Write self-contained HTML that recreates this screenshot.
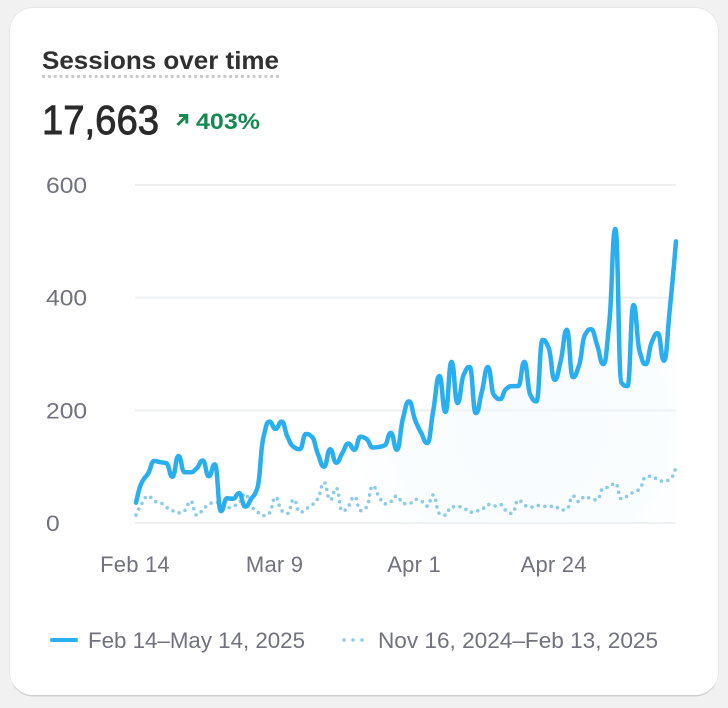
<!DOCTYPE html>
<html lang="en">
<head>
<meta charset="utf-8">
<title>Sessions over time</title>
<style>
  html, body { margin: 0; padding: 0; width: 728px; height: 708px; overflow: hidden; background: #f1f1f1; }
  svg { display: block; }
  text { font-family: "Liberation Sans", sans-serif; }
</style>
</head>
<body>
<svg id="chart" width="728" height="708" viewBox="0 0 728 708" xmlns="http://www.w3.org/2000/svg">
  <defs>
    <radialGradient id="area-fill" gradientUnits="userSpaceOnUse" cx="530" cy="425" r="200">
      <stop offset="0" stop-color="#eff8fd" stop-opacity="0.45"/>
      <stop offset="0.7" stop-color="#f1f9fe" stop-opacity="0.32"/>
      <stop offset="1" stop-color="#ffffff" stop-opacity="0"/>
    </radialGradient>
  </defs>
  <rect x="10" y="9" width="708" height="687.5" rx="23" fill="#cfcfcf"/>
  <rect x="9" y="7" width="710" height="688" rx="24" fill="#e6e6e6"/>
  <rect x="10" y="8" width="708" height="687" rx="23" fill="#ffffff"/>

  <text x="42" y="69" font-size="25" font-weight="700" fill="#303030" textLength="237" lengthAdjust="spacingAndGlyphs">Sessions over time</text>
  <line x1="43.5" y1="76.5" x2="278" y2="76.5" stroke="#c9c9c9" stroke-width="3.2" stroke-linecap="round" stroke-dasharray="0 5.85"/>
  <text x="42" y="134" font-size="41" font-weight="400" fill="#2b2b2b" stroke="#2b2b2b" stroke-width="0.9" textLength="117" lengthAdjust="spacingAndGlyphs">17,663</text>
  <path d="M177.5 125 L186 116.5 M179 115.5 H186.8 V123.5" fill="none" stroke="#138a50" stroke-width="3"/>
  <text x="196" y="129" font-size="22.5" font-weight="700" fill="#138a50" textLength="64" lengthAdjust="spacingAndGlyphs">403%</text>

  <g id="y-axis"></g>
  <g id="x-axis"></g>
  <path id="current-area" fill="url(#area-fill)"/>
  <path id="previous-line" fill="none" stroke="#8bcbea" stroke-width="3.6" stroke-linecap="round" stroke-dasharray="0 6.6"/>
  <path id="current-line" fill="none" stroke="#29aff0" stroke-width="4.5" stroke-linecap="round" stroke-linejoin="round"/>

  <g>
    <line x1="52" y1="640" x2="76" y2="640" stroke="#29aff0" stroke-width="4" stroke-linecap="round"/>
    <text x="88" y="648" font-size="22" fill="#71717f" textLength="217" lengthAdjust="spacingAndGlyphs">Feb 14–May 14, 2025</text>
  </g>
  <g>
    <line x1="344" y1="640" x2="363" y2="640" stroke="#8bcbea" stroke-width="3.6" stroke-linecap="round" stroke-dasharray="0 9"/>
    <text x="378" y="648" font-size="22" fill="#71717f" textLength="280" lengthAdjust="spacingAndGlyphs">Nov 16, 2024–Feb 13, 2025</text>
  </g>
</svg>
<script>
const yTickValues = [0, 200, 400, 600];
const xTickLabels = ["Feb 14", "Mar 9", "Apr 1", "Apr 24"];
const xTickIndexes = [0, 23, 46, 69];
const currentSessions = [
  36, 73, 88, 110, 108, 106, 82, 119, 90, 90,
  97, 111, 83, 104, 21, 44, 43, 53, 29, 43,
  62, 152, 180, 167, 180, 152, 135, 131, 158, 153,
  122, 100, 131, 107, 124, 141, 130, 153, 149, 134,
  135, 138, 160, 130, 186, 216, 183, 160, 142, 200,
  261, 197, 286, 213, 263, 277, 195, 233, 277, 227,
  220, 238, 243, 243, 286, 227, 216, 325, 311, 254,
  288, 343, 259, 279, 334, 344, 316, 282, 355, 522,
  249, 243, 387, 305, 282, 321, 337, 288, 382, 500
];
const previousSessions = [
  14, 35, 48, 39, 36, 28, 22, 18, 22, 39,
  14, 23, 33, 37, 33, 27, 30, 36, 52, 30,
  20, 13, 18, 46, 22, 17, 42, 19, 25, 32,
  44, 72, 41, 62, 21, 30, 47, 22, 28, 66,
  48, 34, 38, 48, 35, 34, 42, 39, 30, 50,
  17, 14, 29, 29, 27, 19, 21, 24, 33, 30,
  33, 22, 17, 41, 32, 28, 31, 30, 29, 30,
  23, 25, 48, 38, 47, 43, 41, 62, 64, 71,
  43, 48, 55, 60, 82, 83, 77, 74, 78, 98
];

const SVG_NS = "http://www.w3.org/2000/svg";
const plotLeft = 136;
const plotRight = 676;
const plotBottom = 523;
const plotTop = 185;
const yMax = 600;

function xScale(i) {
  return plotLeft + (plotRight - plotLeft) * i / (currentSessions.length - 1);
}
function yScale(v) {
  return plotBottom - (plotBottom - plotTop) * v / yMax;
}
function monotonePath(values) {
  const n = values.length;
  const xs = values.map(function (v, i) { return xScale(i); });
  const ys = values.map(function (v) { return yScale(v); });
  const slopes = [];
  for (let i = 0; i < n - 1; i++) {
    slopes.push((ys[i + 1] - ys[i]) / (xs[i + 1] - xs[i]));
  }
  const tangents = [0];
  for (let i = 1; i < n - 1; i++) {
    if (slopes[i - 1] * slopes[i] <= 0) {
      tangents.push(0);
    } else {
      tangents.push(2 * slopes[i - 1] * slopes[i] / (slopes[i - 1] + slopes[i]));
    }
  }
  tangents[0] = (3 * slopes[0] - tangents[1]) / 2;
  tangents.push((3 * slopes[n - 2] - tangents[n - 2]) / 2);
  let d = "M" + xs[0].toFixed(2) + " " + ys[0].toFixed(2);
  for (let i = 0; i < n - 1; i++) {
    const h = (xs[i + 1] - xs[i]) / 2;
    d += "C" + (xs[i] + h).toFixed(2) + " " + (ys[i] + tangents[i] * h).toFixed(2) +
      " " + (xs[i + 1] - h).toFixed(2) + " " + (ys[i + 1] - tangents[i + 1] * h).toFixed(2) +
      " " + xs[i + 1].toFixed(2) + " " + ys[i + 1].toFixed(2);
  }
  return d;
}

const yAxis = document.getElementById("y-axis");
yTickValues.forEach(function (tick) {
  const grid = document.createElementNS(SVG_NS, "line");
  
  
  grid.setAttribute("x1", 135);
  grid.setAttribute("x2", plotRight);
  grid.setAttribute("y1", yScale(tick));
  grid.setAttribute("y2", yScale(tick));
  grid.setAttribute("stroke", "#eeeff1");
  grid.setAttribute("stroke-width", 2);
  yAxis.appendChild(grid);

  const label = document.createElementNS(SVG_NS, "text");
  
  
  label.setAttribute("x", 46);
  label.setAttribute("y", yScale(tick) + 8);
  label.setAttribute("font-size", 22.5);
  label.setAttribute("fill", "#71717f");
  label.setAttribute("textLength", String(tick).length * 13.7);
  label.setAttribute("lengthAdjust", "spacingAndGlyphs");
  label.textContent = tick;
  yAxis.appendChild(label);
});

const xAxis = document.getElementById("x-axis");
xTickLabels.forEach(function (name, idx) {
  const label = document.createElementNS(SVG_NS, "text");
  
  
  label.setAttribute("x", xScale(xTickIndexes[idx]) - 1);
  label.setAttribute("y", 572);
  label.setAttribute("font-size", 22);
  label.setAttribute("letter-spacing", "0.2");
  label.setAttribute("fill", "#71717f");
  label.setAttribute("text-anchor", "middle");
  label.textContent = name;
  xAxis.appendChild(label);
});

const currentD = monotonePath(currentSessions);
document.getElementById("current-line").setAttribute("d", currentD);
document.getElementById("previous-line").setAttribute("d", monotonePath(previousSessions));
document.getElementById("current-area").setAttribute(
  "d",
  currentD + "L" + xScale(currentSessions.length - 1) + " " + yScale(0) + "L" + xScale(0) + " " + yScale(0) + "Z"
);
</script>
</body>
</html>
